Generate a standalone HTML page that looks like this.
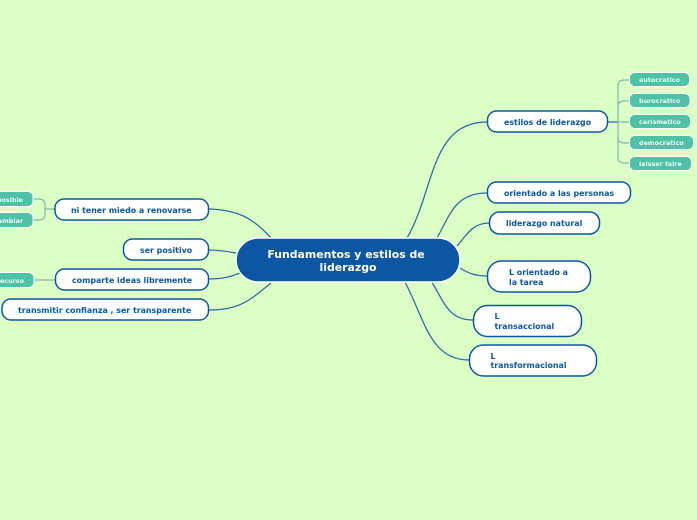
<!DOCTYPE html>
<html><head><meta charset="utf-8"><style>
html,body{margin:0;padding:0;width:697px;height:520px;overflow:hidden;background:#dcffc5}
svg{position:absolute;left:0;top:0}
text{font-family:"DejaVu Sans",sans-serif;font-weight:bold}
.b{font-size:7.9px;fill:#0b57a4}
.w{font-size:6.4px;fill:#e8fff4}
.n{fill:#fff;stroke:#0b57a4;stroke-width:1.5}
.t{fill:#4fc1a6;stroke:#fff;stroke-width:1}
.l{fill:none;stroke:#2c6ca8;stroke-width:1.3}
.s{fill:none;stroke:#7fb8ae;stroke-width:1.2}
</style></head><body>
<svg width="697" height="520" viewBox="0 0 697 520">
<path class="l" d="M407 238C435 190 430 122 487 122"/>
<path class="l" d="M437 238C450 215 455 193 487 193"/>
<path class="l" d="M457 246C466 236 472 223 489 223"/>
<path class="l" d="M460 268C468 273 475 276 487 276"/>
<path class="l" d="M432 282C445 305 450 320 473 320"/>
<path class="l" d="M405 282C425 320 430 360 469 360"/>
<path class="l" d="M271 238C255 220 240 210 209 209"/>
<path class="l" d="M236 253C225 251 218 250 209 250"/>
<path class="l" d="M240 273C230 277 222 279 209 279"/>
<path class="l" d="M271 283C250 300 240 310 209 310"/>
<path class="l" d="M608 122H618"/>
<path class="s" d="M629 80H624Q618 80 618 86V157Q618 163 624 163H629"/>
<path class="s" d="M618 106Q618 101 624 101H629M618 122H629M618 137Q618 143 624 143H629"/>
<path class="s" d="M55 209H45M33 199H39Q45 199 45 205V214Q45 220 39 220H33"/>
<path class="s" d="M34 280H55"/>
<rect x="236" y="238" width="224" height="44" rx="22" fill="#0b57a4" stroke="#fff" stroke-width="1.5"/>
<text x="346" y="258" text-anchor="middle" font-size="10.9" fill="#fff">Fundamentos y estilos de</text>
<text x="348" y="271" text-anchor="middle" font-size="10.9" fill="#fff">liderazgo</text>
<rect class="n" x="487.500" y="111" width="120" height="21" rx="9"/>
<text class="b" x="504" y="125">estilos de liderazgo</text>
<rect class="n" x="487.500" y="182" width="143" height="21" rx="9"/>
<text class="b" x="504" y="196">orientado a las personas</text>
<rect class="n" x="489.500" y="212" width="110" height="22" rx="10"/>
<text class="b" x="506" y="226">liderazgo natural</text>
<rect class="n" x="487.500" y="261" width="103" height="31" rx="14"/>
<text class="b" x="509" y="275">L orientado a</text>
<text class="b" x="509" y="285">la tarea</text>
<rect class="n" x="473.500" y="305.500" width="108" height="31" rx="14"/>
<text class="b" x="494.500" y="319">L</text>
<text class="b" x="494.500" y="329">transaccional</text>
<rect class="n" x="469.500" y="345" width="127" height="31" rx="14"/>
<text class="b" x="490.500" y="359">L</text>
<text class="b" x="490.500" y="368">transformacional</text>
<rect class="n" x="55" y="199" width="153.500" height="21" rx="9"/>
<text class="b" x="71" y="213">ni tener miedo a renovarse</text>
<rect class="n" x="123.500" y="239" width="85" height="21" rx="9"/>
<text class="b" x="140" y="253">ser positivo</text>
<rect class="n" x="55.500" y="269" width="153" height="21" rx="9"/>
<text class="b" x="72" y="283">comparte ideas libremente</text>
<rect class="n" x="2" y="299" width="206.500" height="21" rx="9"/>
<text class="b" x="18" y="313">transmitir confianza , ser transparente</text>
<rect class="t" x="629.500" y="72.500" width="60" height="14" rx="5"/>
<text class="w" x="639" y="82">autocratico</text>
<rect class="t" x="629.500" y="93.500" width="60.500" height="14" rx="5"/>
<text class="w" x="639" y="103">burocratico</text>
<rect class="t" x="629.500" y="114.500" width="61" height="14" rx="5"/>
<text class="w" x="639" y="124">carismatico</text>
<rect class="t" x="629.500" y="135.500" width="64" height="14" rx="5"/>
<text class="w" x="639" y="145">democratico</text>
<rect class="t" x="629.500" y="156.500" width="62" height="14" rx="5"/>
<text class="w" x="639" y="166">laisser faire</text>
<rect class="t" x="-20" y="191.500" width="53" height="15" rx="5"/>
<text class="w" x="23" y="202" text-anchor="end">posible</text>
<rect class="t" x="-20" y="212.500" width="53" height="15" rx="5"/>
<text class="w" x="23" y="223" text-anchor="end">cambiar</text>
<rect class="t" x="-20" y="272.500" width="54" height="15" rx="5"/>
<text class="w" x="24" y="283" text-anchor="end">recurso</text>
</svg>
</body></html>
